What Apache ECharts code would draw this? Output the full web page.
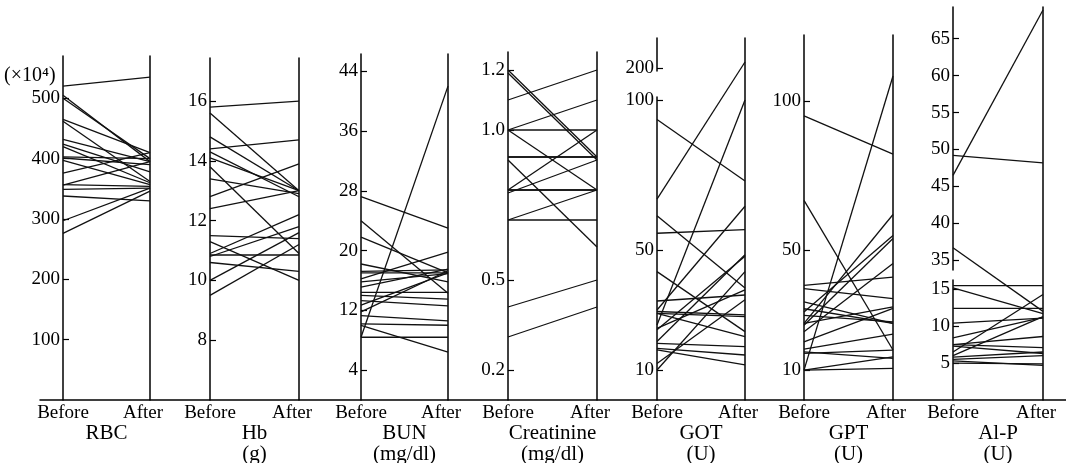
<!DOCTYPE html>
<html><head><meta charset="utf-8">
<script src="https://cdn.jsdelivr.net/npm/echarts@6/dist/echarts.min.js"></script>
<style>html,body{margin:0;padding:0;background:#fff}#c{width:1066px;height:463px}</style>
</head><body><div id="c"></div>
<script>
// ---------- data ----------
const phases = ['Before', 'After'];
const panelNames = ['RBC', 'Hb\n(g)', 'BUN\n(mg/dl)', 'Creatinine\n(mg/dl)', 'GOT\n(U)', 'GPT\n(U)', 'Al-P\n(U)'];

const rbcBefore = [520, 505, 500, 465, 462, 432, 424, 420, 403, 401, 397, 376, 357, 356, 349, 338, 297, 276];
const rbcAfter  = [535, 395, 400, 410, 362, 395, 378, 360, 400, 390, 357, 410, 354, 395, 351, 330, 351, 346];

const hbBefore = [15.8, 15.6, 14.8, 14.4, 14.3, 14.1, 13.8, 13.4, 12.8, 12.4, 11.5, 11.3, 10.9, 10.85, 10.8, 10.6, 10.0, 9.5];
const hbAfter  = [16.0, 13.0, 13.0, 14.7, 12.8, 13.0, 10.9, 12.9, 13.9, 13.0, 11.4, 10.0, 12.2, 10.85, 11.8, 10.3, 11.6, 11.2];

const bunBefore = [27.2, 24, 21.8, 18.2, 17, 17.2, 16.2, 15.8, 15.1, 14.4, 14, 13.3, 12.7, 11.8, 11.3, 10.2, 8.4, 8.4, 10];
const bunAfter  = [23, 14.3, 17, 15.8, 17, 17.4, 19.8, 16.9, 17.5, 14.4, 13.5, 12.6, 17, 17.3, 10.6, 10, 8.4, 42, 6.4];

const creBefore = [1.2, 1.19, 1.1, 1.0, 1.0, 1.0, 0.91, 0.91, 0.9, 0.8, 0.8, 0.8, 0.79, 0.7, 0.7, 0.41, 0.31];
const creAfter  = [0.91, 0.9, 1.2, 1.1, 1.0, 0.8, 0.91, 0.91, 0.61, 1.0, 0.8, 0.8, 0.9, 0.8, 0.7, 0.5, 0.41];

const gotBefore = [93.5, 67, 61.4, 55.6, 42.8, 33, 25, 30, 29.5, 28.9, 28.9, 23.9, 23.4, 19.5, 18.9, 17.2, 16.7, 12.2, 10];
const gotAfter  = [73, 202, 37.3, 56.8, 22.8, 35, 100, 64.6, 28.4, 27.8, 21.1, 36.7, 47.9, 48.4, 17.8, 15, 11.7, 33.4, 42.8];

const gptBefore = [95, 10, 66.7, 38.3, 37.2, 25.6, 32.8, 30.5, 29.4, 28.3, 25.6, 25, 22.8, 19.4, 16.1, 15.6, 10, 10, 17];
const gptAfter  = [82.2, 108.3, 16.7, 41.1, 33.9, 62, 25.6, 25.6, 55, 26.1, 31.1, 54, 45.6, 30.6, 13.9, 16.7, 10.6, 14.4, 22];

const alpBefore = [46.5, 49.2, 36.7, 15.2, 15.5, 12.4, 10.4, 8.4, 7.5, 7.5, 6.5, 6.0, 5.8, 5.3, 5.0, 5.5, 7.3];
const alpAfter  = [68.9, 48.2, 12, 11.7, 15.5, 12.4, 11.1, 11.2, 8.6, 7.1, 14.3, 11.3, 6.5, 4.7, 4.9, 6.0, 6.3];

const rbcTicks = [100, 200, 300, 400, 500];
const hbTicks  = [8, 10, 12, 14, 16];
const bunTicks = [4, 12, 20, 28, 36, 44];
const creTicks = [0.2, 0.5, 1.0, 1.2];
const gotTicks = [10, 50, 100, 200];
const gptTicks = [10, 50, 100];
const alpTicks = [5, 10, 15, 35, 40, 45, 50, 55, 60, 65];

// ---------- layout ----------
const FONT = "'Liberation Serif', 'DejaVu Serif', serif";
const panels = [
  { before: rbcBefore, after: rbcAfter, ticks: rbcTicks, left: 63,  right: 916, top: 56, min: 0,   max: 570 },
  { before: hbBefore,  after: hbAfter,  ticks: hbTicks,  left: 210, right: 767, top: 58, min: 6,   max: 17.44 },
  { before: bunBefore, after: bunAfter, ticks: bunTicks, left: 361, right: 618, top: 54, min: 0,   max: 46.3 },
  { before: creBefore, after: creAfter, ticks: creTicks, left: 508, right: 469, top: 52, min: 0.1, max: 1.26, dec: 1 },
  { before: gotBefore, after: gotAfter, ticks: gotTicks, left: 657, right: 321, top: 38, min: 0,   max: 210,
    breaks: [{ start: 101, end: 199, gap: '7.2%' }] },
  { before: gptBefore, after: gptAfter, ticks: gptTicks, left: 804, right: 173, top: 35, min: 0,   max: 122 },
  { before: alpBefore, after: alpAfter, ticks: alpTicks, left: 953, right: 23,  top: 7,  min: 0,   max: 69.3,
    breaks: [{ start: 16.3, end: 33.7, gap: '2.5%' }] }
];

const grid = [], xAxis = [], yAxis = [], series = [];
panels.forEach((p, i) => {
  grid.push({ left: p.left, right: p.right, top: p.top, bottom: 63, containLabel: false, outerBoundsMode: 'none' });
  xAxis.push({
    type: 'category', gridIndex: i, data: phases, boundaryGap: false,
    axisLine: { show: false }, axisTick: { show: false }, splitLine: { show: false },
    axisLabel: {
      interval: 0, margin: 4, color: '#000',
      formatter: v => v === 'After' ? '{a|After}' : '{b|Before}',
      rich: {
        a: { fontFamily: FONT, fontSize: 19, color: '#000', padding: [0, 14, 0, 0] },
        b: { fontFamily: FONT, fontSize: 19, color: '#000' }
      }
    },
    name: panelNames[i], nameLocation: 'middle', nameGap: 23, nameMoveOverlap: false,
    nameTextStyle: { fontFamily: FONT, fontSize: 21, color: '#000', lineHeight: 21, verticalAlign: 'top' }
  });
  const yb = {
    type: 'value', gridIndex: i, position: 'left', min: p.min, max: p.max,
    axisLine: { show: true, lineStyle: { color: '#000', width: 1.5 } },
    axisTick: { show: true, inside: true, length: 6, customValues: p.ticks, lineStyle: { color: '#000', width: 1.2 } },
    axisLabel: {
      customValues: p.ticks, margin: 3, color: '#000', fontFamily: FONT, fontSize: 19,
      formatter: v => p.dec ? Number(v).toFixed(p.dec) : String(v)
    },
    splitLine: { show: false }
  };
  if (p.breaks) { yb.breaks = p.breaks; yb.breakArea = { show: false }; }
  yAxis.push(yb);
  yAxis.push({
    type: 'value', gridIndex: i, position: 'right', min: p.min, max: p.max,
    axisLine: { show: true, lineStyle: { color: '#000', width: 1.5 } },
    axisTick: { show: false }, axisLabel: { show: false }, splitLine: { show: false }
  });
  p.before.forEach((b, k) => {
    series.push({
      type: 'line', xAxisIndex: i, yAxisIndex: i * 2, data: [b, p.after[k]],
      symbol: 'none', silent: true, animation: false,
      lineStyle: { color: '#111', width: 1.3 }
    });
  });
});

// full-width baseline
grid.push({ left: 40, right: 0, top: 380, bottom: 63, containLabel: false, outerBoundsMode: 'none' });
xAxis.push({ type: 'value', gridIndex: 7, min: 0, max: 1,
  axisLine: { show: true, lineStyle: { color: '#000', width: 1.5 } },
  axisTick: { show: false }, axisLabel: { show: false }, splitLine: { show: false } });
yAxis.push({ type: 'value', gridIndex: 7, show: false });

const chart = echarts.init(document.getElementById('c'), null, { renderer: 'canvas' });
chart.setOption({
  backgroundColor: '#fff',
  animation: false,
  grid, xAxis, yAxis, series,
  graphic: [{ type: 'text', left: 4, top: 66,
    style: { text: '(×10⁴)', fontFamily: FONT, fontSize: 20, fill: '#000' } }]
});
</script></body></html>
